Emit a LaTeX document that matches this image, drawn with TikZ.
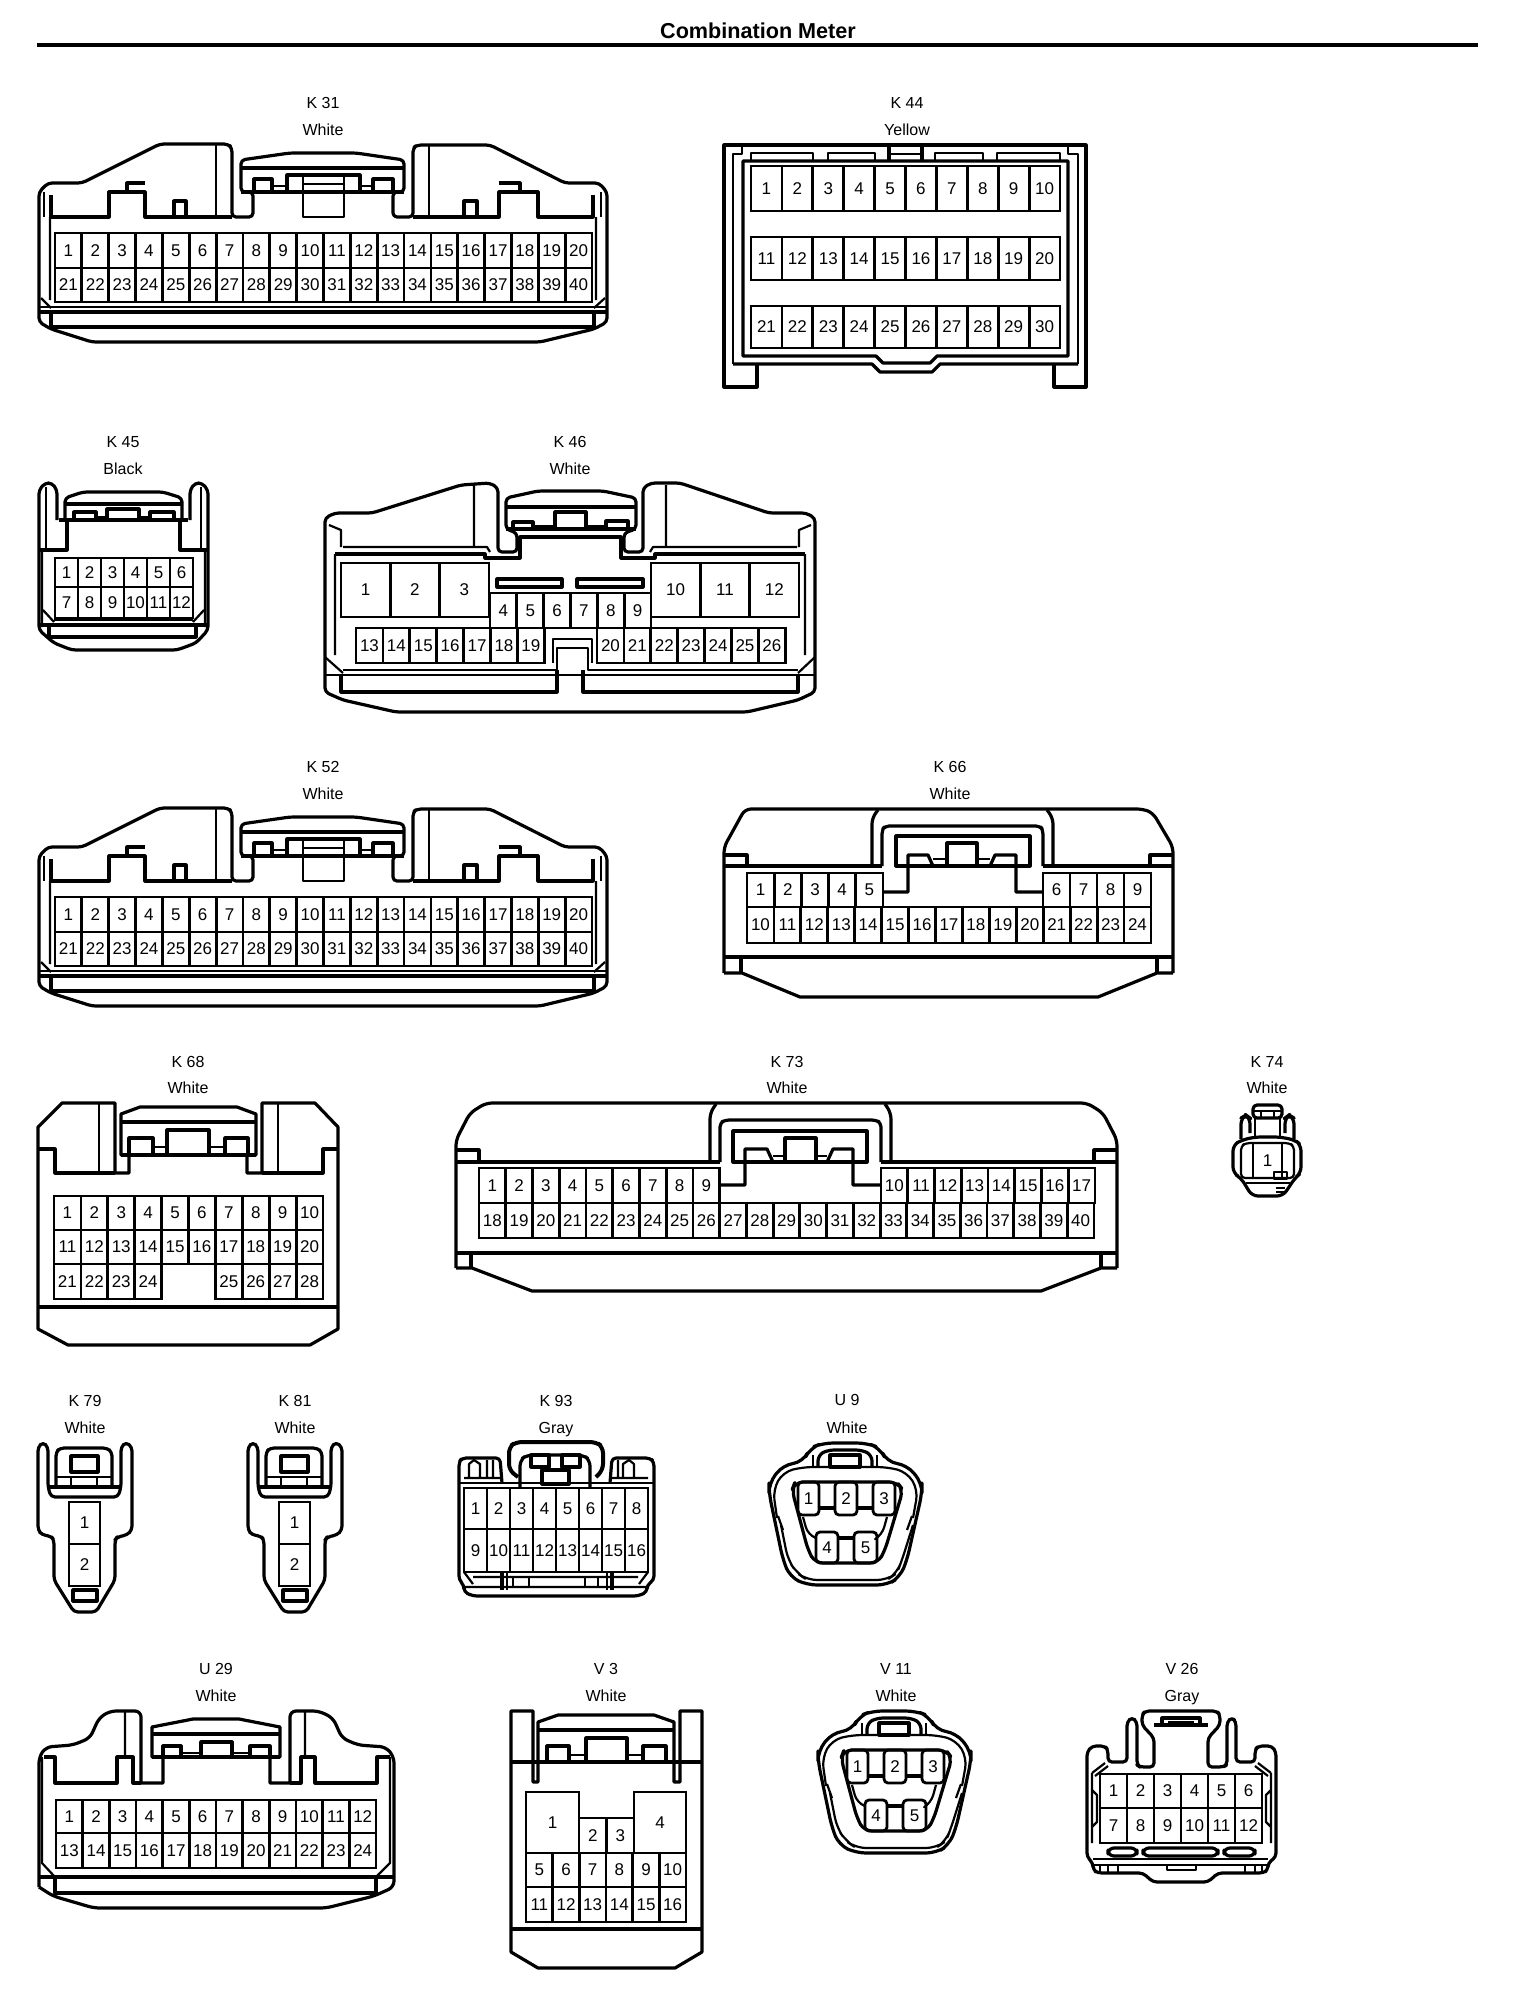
\documentclass[tikz,border=0pt]{standalone}
\usepackage{fontspec}
\setmainfont{Liberation Sans}
\newcommand{\pinrow}[7]{%
	\foreach \n [count=\i from 0] in {#6,...,#7}{
		\node[pincell, minimum width=#4*.5pt, minimum height=#5*.5pt] (#1\n) at ({#2+(\i+.5)*#4},{#3+.5*#5}) {\n};
	}}
\begin{document}
\begin{tikzpicture}[x=.5pt,y=-.5pt]
		\tikzset{
			wall/.style={draw, line width=1.6pt, line join=round},
			slim/.style={draw, line width=1.1pt, line join=round},
			pincell/.style={draw, line width=1.4pt, inner sep=0pt, font=\fontsize{8.5}{10}\selectfont},
			tagtext/.style={inner sep=0pt, yshift=.6pt, text height=6pt, text depth=0pt, font=\fontsize{8}{10}\selectfont},
			long housing/.pic = {
					\path[wall, rounded corners=2pt] (39,322) -- (51,329) -- (92,342) -- (540,342) -- (594,329) -- (607,322) -- (607,192) -- (599,183) -- (565,183) -- (490,145) -- (417,145) -- (413,148) -- (413,217) -- (393,217) -- (393,192) -- (404,192) -- (404,160) -- (356,153) -- (290,153) -- (241,160) -- (241,192) -- (253,192) -- (253,217) -- (232,217) -- (232,148) -- (228,144) -- (160,144) -- (148,150) -- (82,183) -- (48,183) -- (39,192) -- cycle;
					\path[wall] (51,195) -- (51,217) -- (109,217) -- (109,192) -- (145,192) -- (145,217) -- (232,217);
					\path[wall] (413,217) -- (499,217) -- (499,192) -- (538,192) -- (538,217) -- (593,217) -- (593,195);
					\path[wall] (127,192) |- (145,183) (174,217) |- (186,201) -- (186,217);
					\path[wall] (499,183) -| (520,192) (464,217) |- (477,201) -- (477,217);
					\path[slim] (216,144) -- (216,217) (429,144) -- (429,217) (44,192) -- (44,217) (601,192) -- (601,217);
					\path[wall] (241,168) -- (404,168) (241,192) -- (404,192);
					\path[wall] (254,192) |- (272,179) -- (272,192) (287,192) |- (360,175) -- (360,192) (373,192) |- (393,179) -- (393,192);
					\path[slim] (272,186) -- (287,186) (360,186) -- (373,186);
					\path[slim] (303,177) -- (303,217) -- (344,217) -- (344,177) (303,184) -- (344,184);
					\path[slim] (50,217) -- (50,300) (596,217) -- (596,300) (41,298) -- (51,308) (605,298) -- (594,308);
					\path[slim] (39,307) -- (607,307);
					\path[wall] (39,312) -- (607,312) (51,312) -- (51,327) -- (594,327) -- (594,312);
					\pinrow{p}{55}{233}{26.85}{35}{1}{20}
					\pinrow{p}{55}{268}{26.85}{34}{21}{40}
				},
			blade housing/.pic = {
					\path[wall, rounded corners=2pt] (38,1530) -- (38,1447) -- (43,1442) -- (48,1447) -- (48,1487) -- (51,1497) -- (118,1497) -- (121,1487) -- (121,1447) -- (126,1442) -- (132,1447) -- (132,1530) -- (127,1535) -- (117,1537) -- (115,1540) -- (115,1580) -- (96,1612) -- (74,1612) -- (54,1580) -- (54,1540) -- (51,1536) -- (42,1535) -- cycle;
					\path[wall, rounded corners=2pt] (56,1487) -- (56,1452) -- (60,1448) -- (107,1448) -- (112,1452) -- (112,1487);
					\path[wall] (50,1487) -- (119,1487);
					\path[slim] (56,1477) -- (112,1477) (71,1477) -- (71,1487) (97,1477) -- (97,1487);
					\path[wall] (71,1456) rectangle (98,1472) (73,1590) rectangle (97,1601);
					\pinrow{p}{69}{1502}{31}{42}{1}{1}
					\pinrow{p}{69}{1544}{31}{42}{2}{2}
				},
			oval housing/.pic = {
					\path[wall, rounded corners=5pt] (823,1443) -- (867,1443) -- (880,1448) -- (887,1462) -- (907,1465) -- (922,1483) -- (922,1493) -- (907,1560) -- (900,1577) -- (887,1585) -- (807,1585) -- (790,1577) -- (783,1560) -- (769,1493) -- (769,1483) -- (783,1465) -- (803,1462) -- (810,1448) -- cycle;
					\path[slim, rounded corners=5pt] (777,1518) -- (773,1490) -- (783,1472) -- (803,1467) -- (887,1467) -- (907,1472) -- (918,1490) -- (913,1518) (913,1525) -- (902,1560) -- (897,1573) -- (887,1580) -- (807,1580) -- (797,1573) -- (788,1560) -- (781,1525);
					\path[wall, rounded corners=4pt] (815,1563) -- (808,1550) -- (792,1490) -- (795,1482) -- (897,1482) -- (903,1490) -- (885,1550) -- (878,1563) -- cycle;
					\path[slim] (778,1516) -- (783,1530) (912,1516) -- (907,1530);
					\path[slim, rounded corners=4pt] (803,1517) -- (808,1535) -- (816,1538) (887,1517) -- (882,1535) -- (877,1538);
					\path[wall] (819,1508) -- (835,1508) (857,1508) -- (873,1508) (838,1538) -- (854,1538);
					\path[wall, rounded corners=3pt] (818,1467) -- (818,1455) -- (828,1450) -- (862,1450) -- (872,1455) -- (872,1467);
					\path[wall] (830,1455) rectangle (860,1467);
					\path[slim] (813,1455) -- (813,1467) (877,1455) -- (877,1467);
					\node[pincell, rounded corners=2pt, minimum width=10.5pt, minimum height=16.5pt] (p1) at (808.5,1498.5) {1};
					\node[pincell, rounded corners=2pt, minimum width=11pt, minimum height=16.5pt] (p2) at (846,1498.5) {2};
					\node[pincell, rounded corners=2pt, minimum width=11pt, minimum height=16.5pt] (p3) at (884,1498.5) {3};
					\node[pincell, rounded corners=2pt, minimum width=11pt, minimum height=15.5pt] (p4) at (827,1547.5) {4};
					\node[pincell, rounded corners=2pt, minimum width=11.5pt, minimum height=15.5pt] (p5) at (865.5,1547.5) {5};
				}
		}

		\useasboundingbox[fill=white] (0,0) rectangle (1520,1998);

		\node[inner sep=0pt, font=\bfseries\fontsize{10.8}{12}\selectfont] (title) at (758,31) {Combination Meter};
		\coordinate (ruleleft) at (37,45);
		\coordinate (ruleright) at (1478,45);
		\draw[line width=2pt] (ruleleft) -- (ruleright);

		% K 31 and K 52
		\node[tagtext] (k31name) at (323,104) {K 31};
		\node[tagtext] (k31color) at (323,131) {White};
		\pic (k31) at (0,0) {long housing};
		\node[tagtext] (k52name) at (323,768) {K 52};
		\node[tagtext] (k52color) at (323,795) {White};
		\pic (k52) at (0,664) {long housing};

		% K 44
		\node[tagtext] (k44name) at (907,104) {K 44};
		\node[tagtext] (k44color) at (907,131) {Yellow};
		\path[wall] (757,365) -- (757,387) -- (724,387) -- (724,145) -- (1086,145) -- (1086,387) -- (1054,387) -- (1054,365);
		\path[slim] (733,364) -- (733,154) -- (742,154) -- (742,147) (1078,364) -- (1078,154) -- (1068,154) -- (1068,147);
		\path[wall] (733,364) -- (872,364) -- (880,372) -- (932,372) -- (940,364) -- (1078,364);
		\path[wall] (743,161) -- (1068,161) -- (1068,356) -- (937,356) -- (930,363) -- (883,363) -- (876,356) -- (743,356) -- cycle;
		\path[slim] (751,161) |- (813,153) -- (813,161) (828,161) |- (875,153) -- (875,161) (935,161) |- (983,153) -- (983,161) (997,161) |- (1060,153) -- (1060,161);
		\path[wall] (889,161) -- (889,147) (922,147) -- (922,161);
		\path[slim] (889,154) -- (922,154);
		\pinrow{k44p}{751}{166}{30.9}{45}{1}{10}
		\pinrow{k44p}{751}{237}{30.9}{43}{11}{20}
		\pinrow{k44p}{751}{306}{30.9}{42}{21}{30}

		% K 45
		\node[tagtext] (k45name) at (123,443) {K 45};
		\node[tagtext] (k45color) at (123,470) {Black};
		\path[wall, rounded corners=2pt] (57,520) -- (57,490) -- (52,483) -- (45,483) -- (39,490) -- (39,630) -- (54,643) -- (72,650) -- (177,650) -- (196,643) -- (208,630) -- (208,490) -- (202,483) -- (195,483) -- (190,490) -- (190,520);
		\path[wall, rounded corners=2pt] (65,520) -- (65,498) -- (83,492) -- (163,492) -- (182,498) -- (182,520);
		\path[wall] (65,504) -- (182,504) (59,520) -- (188,520);
		\path[wall] (74,519) |- (96,512) -- (96,519) (107,519) |- (139,509) -- (139,519) (150,519) |- (174,512) -- (174,519);
		\path[slim] (96,517) -- (107,517) (139,517) -- (150,517);
		\path[slim] (46,487) -- (46,549) (201,487) -- (201,549);
		\path[wall] (67,520) -- (67,550) -- (39,550) (180,520) -- (180,550) -- (208,550);
		\path[slim] (42,550) -- (42,627) (205,550) -- (205,627) (43,610) -- (54,622) (204,610) -- (193,622);
		\path[slim] (54,620) -- (193,620);
		\path[wall] (39,625) -- (208,625) (49,625) -- (49,637) -- (196,637) -- (196,625);
		\pinrow{k45p}{55}{558}{23}{29}{1}{6}
		\pinrow{k45p}{55}{587}{23}{31}{7}{12}

		% K 46
		\node[tagtext] (k46name) at (570,443) {K 46};
		\node[tagtext] (k46color) at (570,470) {White};
		\path[wall, rounded corners=2pt] (325,692) -- (325,518) -- (335,513) -- (372,513) -- (461,485) -- (490,483) -- (498,488) -- (498,552) -- (517,552) -- (517,533) -- (506,529) -- (506,498) -- (538,491) -- (603,491) -- (636,498) -- (636,529) -- (624,533) -- (624,552) -- (643,552) -- (643,488) -- (651,483) -- (680,483) -- (769,513) -- (806,513) -- (815,518) -- (815,692) -- (798,700) -- (747,712) -- (396,712) -- (343,700) -- cycle;
		\path[wall] (335,554) -- (485,554) -- (485,558) -- (520,558) -- (520,537) -- (621,537) -- (621,558) -- (655,558) -- (655,554) -- (805,554);
		\path[slim] (343,547) -- (487,547) -- (490,552) (797,547) -- (653,547) -- (650,552);
		\path[slim] (474,485) -- (474,547) (666,485) -- (666,547) (329,525) -- (341,530) -- (341,547) (811,525) -- (799,530) -- (799,547);
		\path[wall] (506,507) -- (636,507) (506,529) -- (636,529);
		\path[wall] (513,529) |- (533,522) -- (533,529) (555,529) |- (586,512) -- (586,529) (606,529) |- (628,521) -- (628,529);
		\path[slim] (533,526) -- (555,526) (586,526) -- (606,526);
		\path[slim] (335,554) -- (335,655) (805,554) -- (805,655) (325,657) -- (343,673) (815,657) -- (798,673);
		\path[wall] (497,579) rectangle (562,587) (577,579) rectangle (643,587);
		\path[slim] (553,663) -- (553,639) -- (592,639) -- (592,663);
		\path[slim] (343,670) -- (557,670) -- (557,648) -- (588,648) -- (588,670) -- (798,670);
		\path[slim] (325,675) -- (815,675);
		\path[wall] (341,675) -- (341,692) -- (557,692) -- (557,670) (798,675) -- (798,692) -- (583,692) -- (583,670);
		\pinrow{k46p}{341}{563}{49.3}{54}{1}{3}
		\pinrow{k46p}{651}{563}{49.3}{54}{10}{12}
		\pinrow{k46p}{490}{593}{26.83}{35}{4}{9}
		\pinrow{k46p}{356}{628}{26.9}{35}{13}{19}
		\pinrow{k46p}{597}{628}{26.9}{35}{20}{26}

		% K 66
		\node[tagtext] (k66name) at (950,768) {K 66};
		\node[tagtext] (k66color) at (950,795) {White};
		\path[wall, rounded corners=3pt] (724,973) -- (724,847) -- (745,809) -- (1143,809) -- (1153,813) -- (1173,847) -- (1173,973);
		\path[wall] (724,973) -- (742,973) -- (800,997) -- (1098,997) -- (1157,973) -- (1173,973);
		\path[wall] (724,866) -- (882,866) (1043,866) -- (1173,866) (724,855) -- (747,855) -- (747,866) (1173,855) -- (1150,855) -- (1150,866);
		\path[wall, rounded corners=3pt] (872,866) -- (872,818) -- (878,810) (1053,866) -- (1053,818) -- (1047,810);
		\path[wall, rounded corners=2pt] (882,866) -- (882,830) -- (885,826) -- (1040,826) -- (1043,830) -- (1043,866);
		\path[wall] (896,836) rectangle (1030,866);
		\path[wall] (883,892) -- (908,892) -- (908,855) -- (928,855) -- (933,866) (1043,892) -- (1016,892) -- (1016,855) -- (995,855) -- (990,866);
		\path[wall] (947,866) |- (977,843) -- (977,866);
		\path[slim] (933,859) -- (947,859) (977,859) -- (990,859);
		\path[wall] (724,957) -- (1173,957);
		\path[wall] (741,957) -- (741,973) (1157,957) -- (1157,973);
		\pinrow{k66p}{747}{873}{27.2}{34}{1}{5}
		\pinrow{k66p}{1043}{873}{27}{34}{6}{9}
		\pinrow{k66p}{747}{907}{26.93}{36}{10}{24}

		% K 68
		\node[tagtext] (k68name) at (188,1063) {K 68};
		\node[tagtext] (k68color) at (188,1089) {White};
		\path[wall] (38,1127) -- (62,1103) -- (115,1103) -- (115,1173) -- (129,1173) -- (129,1155) -- (121,1155) -- (121,1114) -- (140,1107) -- (237,1107) -- (256,1114) -- (256,1155) -- (247,1155) -- (247,1173) -- (262,1173) -- (262,1103) -- (315,1103) -- (338,1127) -- (338,1329) -- (310,1345) -- (68,1345) -- (38,1329) -- cycle;
		\path[wall] (38,1149) -- (55,1149) -- (55,1173) -- (115,1173) (338,1149) -- (323,1149) -- (323,1173) -- (262,1173);
		\path[slim] (99,1103) -- (99,1173) (278,1103) -- (278,1173);
		\path[wall] (121,1122) -- (256,1122) (121,1155) -- (256,1155);
		\path[wall] (129,1155) |- (153,1138) -- (153,1155) (167,1155) |- (209,1130) -- (209,1155) (225,1155) |- (248,1138) -- (248,1155);
		\path[slim] (153,1147) -- (167,1147) (209,1147) -- (225,1147);
		\path[wall] (38,1307) -- (338,1307);
		\pinrow{k68p}{54}{1196}{26.9}{34}{1}{10}
		\pinrow{k68p}{54}{1230}{26.9}{34}{11}{20}
		\pinrow{k68p}{54}{1264}{26.9}{35}{21}{24}
		\pinrow{k68p}{215.4}{1264}{26.9}{35}{25}{28}

		% K 73
		\node[tagtext] (k73name) at (787,1063) {K 73};
		\node[tagtext] (k73color) at (787,1089) {White};
		\path[wall, rounded corners=3pt] (456,1268) -- (456,1140) -- (470,1113) -- (486,1103) -- (1087,1103) -- (1103,1113) -- (1117,1140) -- (1117,1268);
		\path[wall] (456,1268) -- (472,1268) -- (532,1291) -- (1041,1291) -- (1101,1268) -- (1117,1268);
		\path[wall] (456,1162) -- (720,1162) (881,1162) -- (1117,1162) (456,1150) -- (479,1150) -- (479,1162) (1117,1150) -- (1094,1150) -- (1094,1162);
		\path[wall, rounded corners=3pt] (710,1162) -- (710,1113) -- (716,1104) (891,1162) -- (891,1113) -- (885,1104);
		\path[wall, rounded corners=2pt] (720,1162) -- (720,1123) -- (725,1120) -- (876,1120) -- (881,1123) -- (881,1162);
		\path[wall] (733,1131) rectangle (867,1162);
		\path[wall] (721,1185) -- (745,1185) -- (745,1149) -- (767,1149) -- (773,1162) (881,1185) -- (853,1185) -- (853,1149) -- (833,1149) -- (827,1162);
		\path[wall] (785,1162) |- (816,1138) -- (816,1162);
		\path[slim] (773,1156) -- (785,1156) (816,1156) -- (827,1156);
		\path[wall] (456,1253) -- (1117,1253);
		\path[wall] (471,1253) -- (471,1268) (1101,1253) -- (1101,1268);
		\pinrow{k73p}{479}{1168}{26.74}{35}{1}{9}
		\pinrow{k73p}{881}{1168}{26.74}{35}{10}{17}
		\pinrow{k73p}{479}{1203}{26.74}{35}{18}{40}

		% K 74
		\node[tagtext] (k74name) at (1267,1063) {K 74};
		\node[tagtext] (k74color) at (1267,1089) {White};
		\path[wall, rounded corners=2pt] (1253,1118) -- (1253,1105) -- (1282,1105) -- (1282,1118) -- cycle;
		\path[slim] (1253,1111) -- (1282,1111) (1261,1111) -- (1261,1118) (1274,1111) -- (1274,1118);
		\path[slim] (1255,1118) -- (1255,1137) (1280,1118) -- (1280,1137);
		\path[wall, rounded corners=3pt] (1250,1133) -- (1250,1118) -- (1246,1115) -- (1241,1118) -- (1241,1139) (1285,1133) -- (1285,1118) -- (1289,1115) -- (1294,1118) -- (1294,1139);
		\path[wall, rounded corners=3pt] (1233,1145) -- (1242,1140) -- (1255,1137) -- (1280,1137) -- (1295,1140) -- (1301,1145) -- (1301,1173) -- (1295,1178) -- (1283,1196) -- (1252,1196) -- (1241,1178) -- (1233,1173) -- cycle;
		\path[slim, rounded corners=2pt] (1241,1178) -- (1241,1146) -- (1246,1143) -- (1289,1143) -- (1294,1146) -- (1294,1178) -- cycle;
		\path[slim] (1246,1183) -- (1290,1183) (1276,1188) -- (1285,1188) (1276,1192) -- (1285,1192);
		\node[pincell, minimum width=14.5pt, minimum height=17.5pt] (k74p1) at (1267.5,1160.5) {1};
		\path[slim] (1274,1172) rectangle (1287,1179);

		% K 79 and K 81
		\node[tagtext] (k79name) at (85,1402) {K 79};
		\node[tagtext] (k79color) at (85,1429) {White};
		\pic (k79) at (0,0) {blade housing};
		\node[tagtext] (k81name) at (295,1402) {K 81};
		\node[tagtext] (k81color) at (295,1429) {White};
		\pic (k81) at (210,0) {blade housing};

		% K 93
		\node[tagtext] (k93name) at (556,1402) {K 93};
		\node[tagtext] (k93color) at (556,1429) {Gray};
		\path[wall, rounded corners=2pt] (502,1483) -- (500,1458) -- (462,1458) -- (459,1462) -- (459,1580) -- (464,1585) -- (464,1592) -- (473,1596) -- (638,1596) -- (647,1592) -- (647,1585) -- (654,1580) -- (654,1462) -- (650,1458) -- (612,1458) -- (610,1483);
		\path[wall, line width=2pt, rounded corners=3pt] (518,1477) -- (509,1470) -- (509,1447) -- (516,1442) -- (596,1442) -- (603,1447) -- (603,1470) -- (596,1477);
		\path[wall, rounded corners=3pt] (520,1487) -- (520,1460) -- (527,1455) -- (583,1455) -- (590,1460) -- (590,1487);
		\path[wall] (531,1455) rectangle (549,1467) (562,1455) rectangle (580,1467) (542,1470) rectangle (569,1484);
		\path[slim] (464,1478) -- (502,1478) (612,1478) -- (648,1478) (469,1478) -- (469,1464) -- (474,1460) -- (480,1464) -- (480,1478) (487,1460) -- (487,1478) (493,1460) -- (493,1478) (634,1478) -- (634,1464) -- (629,1460) -- (623,1464) -- (623,1478) (618,1460) -- (618,1478);
		\path[slim] (459,1483) -- (654,1483);
		\path[slim] (464,1572) -- (473,1584) (648,1572) -- (639,1584) (473,1577) -- (638,1577) (464,1587) -- (647,1587);
		\path[wall] (502,1572) -- (502,1590) (612,1572) -- (612,1590);
		\path[slim] (507,1572) -- (507,1590) (607,1572) -- (607,1590) (513,1577) -- (513,1587) (529,1577) -- (529,1587) (585,1577) -- (585,1587) (598,1577) -- (598,1587);
		\pinrow{k93p}{464}{1488}{23}{41}{1}{8}
		\pinrow{k93p}{464}{1529}{23}{43}{9}{16}

		% U 9 and V 11
		\node[tagtext] (u9name) at (847,1401) {U 9};
		\node[tagtext] (u9color) at (847,1429) {White};
		\pic (u9) at (0,0) {oval housing};
		\node[tagtext] (v11name) at (896,1670) {V 11};
		\node[tagtext] (v11color) at (896,1697) {White};
		\pic (v11) at (49,268) {oval housing};

		% U 29
		\node[tagtext] (u29name) at (216,1670) {U 29};
		\node[tagtext] (u29color) at (216,1697) {White};
		\path[wall, rounded corners=3pt] (39,1887) -- (39,1757) -- (46,1747) -- (73,1745) -- (90,1738) -- (99,1718) -- (110,1711) -- (141,1711) -- (141,1783);
		\path[wall] (141,1783) -- (163,1783) -- (163,1757) -- (152,1757) -- (152,1727) -- (193,1719) -- (239,1719) -- (280,1727) -- (280,1757) -- (270,1757) -- (270,1783) -- (290,1783);
		\path[wall, rounded corners=3pt] (290,1783) -- (290,1711) -- (319,1711) -- (333,1718) -- (342,1738) -- (358,1745) -- (386,1747) -- (394,1757) -- (394,1887) -- (374,1896) -- (326,1908) -- (94,1908) -- (53,1896) -- (39,1887);
		\path[wall] (44,1757) -- (55,1757) -- (55,1783) -- (117,1783) -- (117,1757) -- (133,1757) -- (133,1783) -- (141,1783);
		\path[wall] (390,1757) -- (377,1757) -- (377,1783) -- (315,1783) -- (315,1757) -- (301,1757) -- (301,1783) -- (290,1783);
		\path[slim] (125,1711) -- (125,1757) (305,1711) -- (305,1757) (42,1757) -- (42,1863) -- (55,1877) (390,1757) -- (390,1863) -- (376,1877);
		\path[wall] (152,1734) -- (280,1734) (152,1757) -- (280,1757);
		\path[wall] (163,1757) |- (181,1746) -- (181,1757) (201,1757) |- (232,1742) -- (232,1757) (250,1757) |- (270,1746) -- (270,1757);
		\path[slim] (181,1753) -- (201,1753) (232,1753) -- (250,1753);
		\path[wall] (39,1877) -- (394,1877) (55,1877) -- (55,1893) -- (376,1893) -- (376,1877);
		\pinrow{u29p}{56}{1800}{26.67}{33}{1}{12}
		\pinrow{u29p}{56}{1833}{26.67}{35}{13}{24}

		% V 3
		\node[tagtext] (v3name) at (606,1670) {V 3};
		\node[tagtext] (v3color) at (606,1697) {White};
		\path[wall] (511,1952) -- (511,1711) -- (533,1711) -- (533,1782) -- (538,1782) -- (538,1722) -- (558,1715) -- (654,1715) -- (674,1722) -- (674,1782) -- (680,1782) -- (680,1711) -- (702,1711) -- (702,1952) -- (675,1968) -- (538,1968) -- cycle;
		\path[wall] (511,1762) -- (702,1762) (538,1730) -- (674,1730) (511,1929) -- (702,1929);
		\path[wall] (547,1761) |- (569,1746) -- (569,1761) (586,1761) |- (627,1738) -- (627,1761) (643,1761) |- (666,1746) -- (666,1761);
		\path[slim] (569,1755) -- (586,1755) (627,1755) -- (643,1755);
		\node[pincell, minimum width=26.5pt, minimum height=30.5pt] (v3p1) at (552.5,1822.5) {1};
		\pinrow{v3p}{579}{1818}{27.5}{35}{2}{3}
		\node[pincell, minimum width=26pt, minimum height=30.5pt] (v3p4) at (660,1822.5) {4};
		\pinrow{v3p}{526}{1853}{26.67}{34}{5}{10}
		\pinrow{v3p}{526}{1887}{26.67}{35}{11}{16}

		% V 26
		\node[tagtext] (v26name) at (1182,1670) {V 26};
		\node[tagtext] (v26color) at (1182,1697) {Gray};
		\path[wall, rounded corners=2pt] (1087,1857) -- (1087,1752) -- (1092,1746) -- (1105,1746) -- (1108,1750) -- (1108,1762) -- (1127,1762) -- (1127,1722) -- (1132,1717) -- (1137,1722) -- (1137,1765) -- (1140,1767) -- (1154,1767) -- (1154,1738) -- (1142,1725) -- (1142,1715) -- (1145,1711) -- (1217,1711) -- (1220,1715) -- (1220,1725) -- (1208,1738) -- (1208,1767) -- (1223,1767) -- (1227,1765) -- (1227,1722) -- (1232,1717) -- (1236,1722) -- (1236,1762) -- (1255,1762) -- (1255,1750) -- (1258,1746) -- (1272,1746) -- (1276,1752) -- (1276,1857) -- (1268,1863) -- (1268,1870) -- (1263,1873) -- (1218,1873) -- (1208,1882) -- (1153,1882) -- (1143,1873) -- (1098,1873) -- (1093,1870) -- (1093,1863) -- cycle;
		\path[wall] (1154,1725) -- (1208,1725);
		\path[wall] (1162,1725) -- (1162,1718) -- (1200,1718) -- (1200,1725);
		\path[slim] (1168,1722) -- (1194,1722);
		\path[slim] (1092,1773) -- (1105,1763) (1095,1776) -- (1108,1766) (1271,1773) -- (1258,1763) (1268,1776) -- (1255,1766);
		\path[slim] (1092,1773) -- (1092,1843) (1271,1773) -- (1271,1843) (1092,1790) -- (1097,1795) -- (1097,1822) -- (1092,1827) (1271,1790) -- (1266,1795) -- (1266,1822) -- (1271,1827);
		\path[wall, rounded corners=3pt] (1108,1848) rectangle (1137,1856) (1143,1848) rectangle (1218,1856) (1224,1848) rectangle (1255,1856);
		\path[slim] (1093,1859) -- (1268,1859) (1093,1865) -- (1268,1865);
		\path[slim] (1100,1865) -- (1100,1873) (1108,1865) -- (1108,1873) (1118,1865) -- (1118,1873) (1245,1865) -- (1245,1873) (1255,1865) -- (1255,1873) (1262,1865) -- (1262,1873);
		\path[slim] (1167,1865) -- (1167,1870) -- (1196,1870) -- (1196,1865);
		\pinrow{v26p}{1100}{1774}{27}{34}{1}{6}
		\pinrow{v26p}{1100}{1808}{27}{35}{7}{12}
	\end{tikzpicture}
\end{document}
